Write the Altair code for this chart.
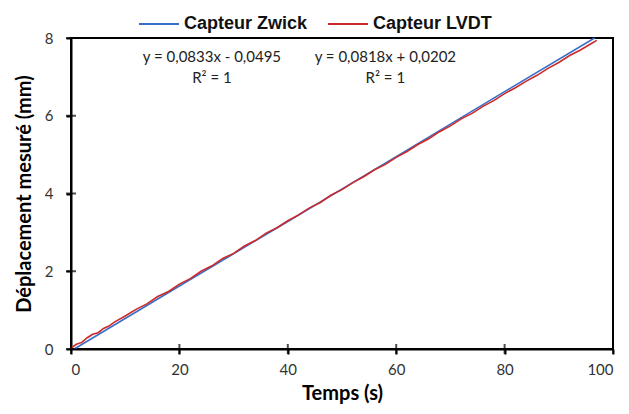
import altair as alt
import pandas as pd

zwick_t = [0.6, 20, 40, 60, 80, 96.6]
zwick_d = [0.0, 1.62, 3.28, 4.95, 6.62, 8.0]

lvdt_t = [0, 1, 2, 3, 4, 5, 6, 7, 8, 10, 12, 14, 16, 18, 20, 22, 24, 26, 28, 30,
          32, 34, 36, 38, 40, 42, 44, 46, 48, 50, 52, 54, 56, 58, 60, 62, 64, 66,
          68, 70, 72, 74, 76, 78, 80, 82, 84, 86, 88, 90, 92, 94, 96, 97]
lvdt_d = [0.02, 0.12, 0.17, 0.29, 0.38, 0.42, 0.53, 0.59, 0.69, 0.85, 1.02, 1.16,
          1.35, 1.48, 1.67, 1.81, 2.00, 2.14, 2.33, 2.46, 2.65, 2.79, 2.98, 3.12,
          3.30, 3.45, 3.63, 3.77, 3.96, 4.10, 4.28, 4.43, 4.61, 4.75, 4.93, 5.08,
          5.26, 5.41, 5.59, 5.74, 5.92, 6.06, 6.24, 6.39, 6.57, 6.72, 6.89, 7.04,
          7.22, 7.37, 7.55, 7.69, 7.86, 7.94]

series = ["Capteur Zwick", "Capteur LVDT"]
colors = ["#3a6fc8", "#cc2a2a"]

eq_text = ["y = 0,0833x - 0,0495", "R² = 1", "y = 0,0818x + 0,0202", "R² = 1"]
eq_x = [26, 26, 58, 58]
eq_y = [7.51, 6.97, 7.51, 6.97]

x_ticks = [0, 20, 40, 60, 80, 100]
y_ticks = [0, 2, 4, 6, 8]

df_z = pd.DataFrame({"t": zwick_t, "d": zwick_d, "s": series[0]})
df_l = pd.DataFrame({"t": lvdt_t, "d": lvdt_d, "s": series[1]})
df_eq = pd.DataFrame({"x": eq_x, "y": eq_y, "txt": eq_text})
df_xt = pd.DataFrame({"t": x_ticks, "d": [0] * len(x_ticks)})
df_yt = pd.DataFrame({"t": [0] * len(y_ticks), "d": y_ticks})

color = alt.Color("s:N", scale=alt.Scale(domain=series, range=colors),
                  legend=alt.Legend(title=None, orient="none", legendX=67, legendY=-35,
                                    direction="horizontal", symbolType="stroke",
                                    symbolSize=1600, symbolStrokeWidth=2,
                                    labelFont="Liberation Sans", labelFontWeight="bold",
                                    labelFontSize=18, labelColor="#111",
                                    columnPadding=16, labelOffset=4))

xs = alt.X("t:Q", scale=alt.Scale(domain=[0, 100]),
           axis=alt.Axis(title="Temps (s)", values=x_ticks))
ys = alt.Y("d:Q", scale=alt.Scale(domain=[0, 8]),
           axis=alt.Axis(title="Déplacement mesuré (mm)", values=y_ticks))

line_z = alt.Chart(df_z).mark_line(strokeWidth=1.6).encode(x=xs, y=ys, color=color)
line_l = alt.Chart(df_l).mark_line(strokeWidth=1.6).encode(x=xs, y=ys, color=color)

txt = alt.Chart(df_eq).mark_text(font="Lato", fontSize=15, color="#222").encode(
    x=alt.X("x:Q"), y=alt.Y("y:Q"), text="txt:N")

xt = alt.Chart(df_xt).mark_tick(orient="vertical", size=10, thickness=2, color="#000").encode(
    x=alt.X("t:Q"), y=alt.Y("d:Q"))
yt = alt.Chart(df_yt).mark_tick(orient="horizontal", size=10, thickness=2, color="#000").encode(
    x=alt.X("t:Q"), y=alt.Y("d:Q"))

chart = alt.layer(line_z, line_l, txt, xt, yt).properties(
    width=542, height=311,
    autosize=alt.AutoSizeParams(type="none"),
    padding={"left": 63, "top": 30, "right": 8, "bottom": 57},
).configure_view(stroke="#000", strokeWidth=2).configure_axis(
    grid=False, domainColor="#000", domainWidth=2, tickColor="#000", tickWidth=2,
    tickSize=5, labelFont="Lato", labelFontSize=15, labelColor="#333",
    titleFont="Lato", titleFontSize=20, titleFontWeight="bold",
    titleColor="#000"
).configure_axisX(titlePadding=6, labelPadding=8).configure_axisY(
    titlePadding=10, labelPadding=13)

chart.save("out.html", embed_options={"renderer": "svg", "actions": False})
